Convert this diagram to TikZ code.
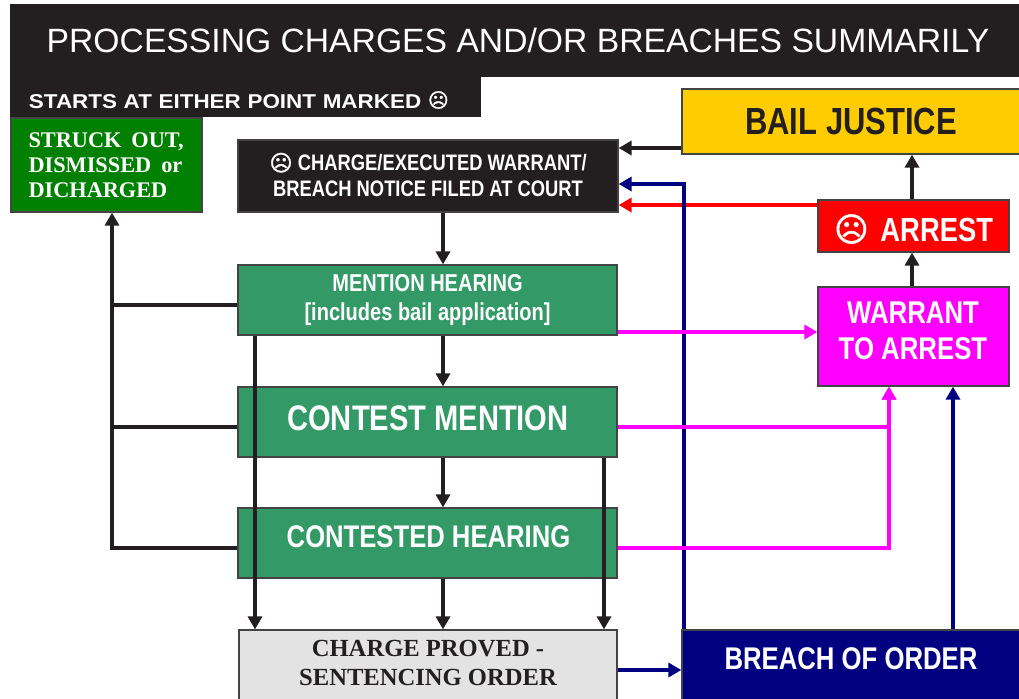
\documentclass[tikz,border=0pt]{standalone}
\usepackage{fontspec}
\usetikzlibrary{arrows.meta}
\setmainfont{Liberation Sans}
\newfontfamily\serifface{Liberation Serif}
\newfontfamily\narrowface[FakeStretch=0.82]{Liberation Sans}
\newfontfamily\wideface[FakeStretch=1.12]{Liberation Sans}
\newfontfamily\symface[FakeBold=1.5]{DejaVu Sans}
\newcommand{\frownie}{{\symface ☹}}
\definecolor{inkblack}{HTML}{231F20}
\definecolor{edgegrey}{HTML}{444444}
\definecolor{strikegreen}{HTML}{008000}
\definecolor{hearinggreen}{HTML}{339966}
\definecolor{provedgrey}{HTML}{E3E3E3}
\definecolor{bailyellow}{HTML}{FFCC00}
\definecolor{breachnavy}{HTML}{000080}
\definecolor{warrantpink}{HTML}{FF00FF}

\begin{document}
\begin{tikzpicture}[x=0.02cm, y=-0.02cm]
    \tikzstyle{every node}=[draw=edgegrey, line width=0.7pt, inner sep=0pt, align=center, text=white, font=\bfseries\narrowface]
    \tikzstyle{caption}=[draw=none]
    \tikzstyle{wire}=[line width=1.85pt, inkblack, -{Triangle[length=0.26cm, width=0.28cm]}]
    \tikzstyle{plain wire}=[line width=1.85pt, inkblack]

    \useasboundingbox (0,0) rectangle (1019,698);
    \clip (0,0) rectangle (1019,698);

    \coordinate (midline)  at (443,0);
    \coordinate (leftline) at (255,0);
    \coordinate (rightline) at (604,0);
    \coordinate (strikeline) at (112,0);
    \coordinate (navyline) at (684,0);
    \coordinate (pinkline) at (889,0);
    \coordinate (upline)   at (912,0);
    \coordinate (breachline) at (953,0);
    \coordinate (bailrow)  at (0,148);
    \coordinate (navyrow)  at (0,184);
    \coordinate (redrow)   at (0,205);
    \coordinate (mentionrow) at (0,305);
    \coordinate (warrantrow) at (0,332);
    \coordinate (contestrow) at (0,427);
    \coordinate (hearingrow) at (0,548);
    \coordinate (orderrow) at (0,670);

    \node (title)   [draw=none, fill=inkblack, minimum width=1009*0.02cm, minimum height=73*0.02cm] at (514.5,40.5) {};
    \node (titletext) [caption, font=\fontsize{19.17pt}{22pt}\selectfont\normalfont] at (518,40) {PROCESSING CHARGES AND/OR BREACHES SUMMARILY};
    \node (starts)  [draw=none, fill=inkblack, minimum width=471*0.02cm, minimum height=40*0.02cm] at (245.5,97) {};
    \node (startstext) [caption, text width=433*0.02cm, align=left, font=\fontsize{11.4pt}{13pt}\selectfont\bfseries\wideface] at (245.5,100) {STARTS AT EITHER POINT MARKED \raisebox{0.5pt}{\frownie}};

    \node (struck)  [fill=strikegreen, minimum width=191*0.02cm, minimum height=94*0.02cm, text width=156*0.02cm, align=left, font=\fontsize{12.7pt}{14.1pt}\selectfont\bfseries\serifface] at (106.5,165) {STRUCK\hspace{0.45em}OUT,\\DISMISSED\hspace{0.45em}or\\DICHARGED};
    \node (charge)  [fill=inkblack, minimum width=380*0.02cm, minimum height=72*0.02cm] at (428,176) {};
    \node (chargetext) [caption, font=\fontsize{12.75pt}{14.8pt}\selectfont\bfseries\narrowface] at (428,175) {\frownie{} CHARGE/EXECUTED WARRANT/\\BREACH NOTICE FILED AT COURT};
    \node (mention) [fill=hearinggreen, minimum width=379*0.02cm, minimum height=70*0.02cm, font=\fontsize{13.9pt}{16.8pt}\selectfont\bfseries\narrowface] at (427.5,300) {MENTION HEARING\\{[}includes bail application{]}};
    \node (contest) [fill=hearinggreen, minimum width=379*0.02cm, minimum height=70*0.02cm] at (427.5,422) {};
    \node (contesttext) [caption, font=\fontsize{20.2pt}{24pt}\selectfont\bfseries\narrowface] at (428,418) {CONTEST MENTION};
    \node (hearing) [fill=hearinggreen, minimum width=379*0.02cm, minimum height=70*0.02cm] at (427.5,543) {};
    \node (hearingtext) [caption, font=\fontsize{17.8pt}{21pt}\selectfont\bfseries\narrowface] at (428.5,537) {CONTESTED HEARING};
    \node (proved)  [fill=provedgrey, minimum width=378*0.02cm, minimum height=90*0.02cm] at (428,675) {};
    \node (provedtext) [caption, text=inkblack, font=\fontsize{14pt}{16.6pt}\selectfont\bfseries\serifface] at (428,663) {CHARGE PROVED -\\SENTENCING ORDER};
    \node (breach)  [fill=breachnavy, minimum width=340*0.02cm, minimum height=90*0.02cm] at (852,675) {};
    \node (breachtext) [caption, font=\fontsize{17.85pt}{21pt}\selectfont\bfseries\narrowface] at (851,659) {BREACH OF ORDER};
    \node (bail)    [fill=bailyellow, minimum width=340*0.02cm, minimum height=65*0.02cm] at (852,121.5) {};
    \node (bailtext) [caption, text=inkblack, font=\fontsize{21.5pt}{25pt}\selectfont\bfseries\narrowface] at (851,121) {BAIL JUSTICE};
    \node (arrest)  [fill=red, minimum width=191*0.02cm, minimum height=52*0.02cm] at (913.5,226) {};
    \node (arresttext) [caption, font=\fontsize{19pt}{22pt}\selectfont\bfseries\narrowface] at (913.5,229) {\frownie\hspace{0.35em}ARREST};
    \node (warrant) [fill=warrantpink, minimum width=191*0.02cm, minimum height=99*0.02cm] at (913.5,336.5) {};
    \node (warranttext) [caption, font=\fontsize{17.9pt}{20.5pt}\selectfont\bfseries\narrowface] at (913,331) {WARRANT\\TO ARREST};

    \draw[wire] (charge.south -| midline) -- (mention.north -| midline);
    \draw[wire] (mention.south -| midline) -- (contest.north -| midline);
    \draw[wire] (contest.south -| midline) -- (hearing.north -| midline);
    \draw[wire] (hearing.south -| midline) -- (proved.north -| midline);
    \draw[wire] (mention.south -| leftline) -- (proved.north -| leftline);
    \draw[wire] (contest.south -| rightline) -- (proved.north -| rightline);

    \draw[plain wire] (mention.west |- mentionrow) -- (mentionrow -| strikeline);
    \draw[plain wire] (contest.west |- contestrow) -- (contestrow -| strikeline);
    \draw[wire] (hearing.west |- hearingrow) -- (hearingrow -| strikeline) -- (struck.south -| strikeline);

    \draw[wire] (bail.west |- bailrow) -- (charge.east |- bailrow);
    \draw[wire, red] (arrest.west |- redrow) -- (charge.east |- redrow);
    \draw[wire, breachnavy] (breach.north -| navyline) -- (navyrow -| navyline) -- (charge.east |- navyrow);
    \draw[wire, breachnavy] (proved.east |- orderrow) -- (breach.west |- orderrow);
    \draw[wire, breachnavy] (breach.north -| breachline) -- (warrant.south -| breachline);

    \draw[wire, warrantpink] (mention.east |- warrantrow) -- (warrant.west |- warrantrow);
    \draw[wire, warrantpink] (contest.east |- contestrow) -- (contestrow -| pinkline) -- (warrant.south -| pinkline);
    \draw[wire, warrantpink] (hearing.east |- hearingrow) -- (hearingrow -| pinkline) -- (warrant.south -| pinkline);

    \draw[wire] (arrest.north -| upline) -- (bail.south -| upline);
    \draw[wire] (warrant.north -| upline) -- (arrest.south -| upline);
\end{tikzpicture}
\end{document}
